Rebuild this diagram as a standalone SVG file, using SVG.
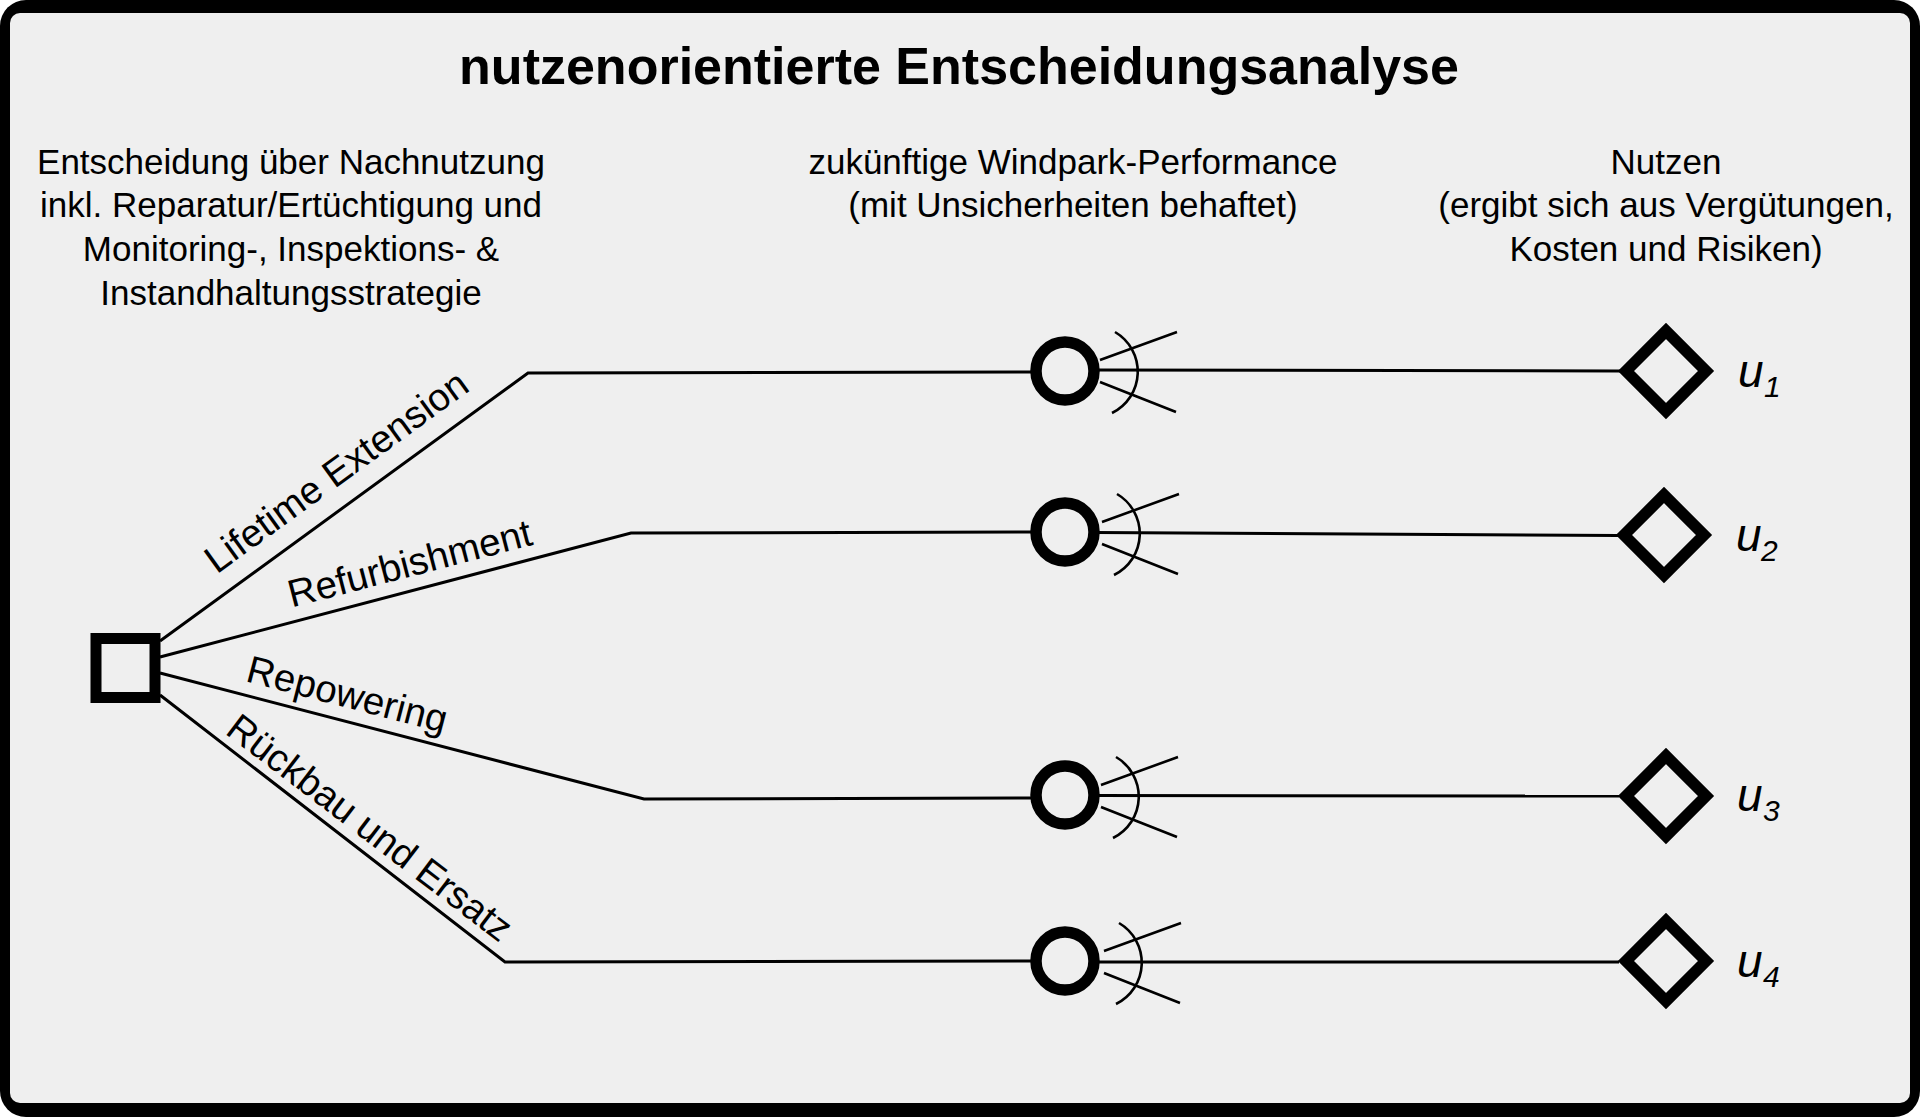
<svg xmlns="http://www.w3.org/2000/svg" xmlns:xlink="http://www.w3.org/1999/xlink" width="1920" height="1117" viewBox="0 0 1920 1117">
<style>
.t{font-family:"Liberation Sans",Arial,sans-serif;font-size:35px;fill:#000;text-anchor:middle}
.lb{font-family:"Liberation Sans",Arial,sans-serif;font-size:38.5px;fill:#000;text-anchor:middle}
.title{font-family:"Liberation Sans",Arial,sans-serif;font-size:52px;font-weight:bold;fill:#000;text-anchor:middle}
.u{font-family:"Liberation Sans",Arial,sans-serif;font-size:46px;font-style:italic;fill:#000}
.sub{font-family:"Liberation Sans",Arial,sans-serif;font-size:30px;font-style:italic;fill:#000}
.ln{fill:none;stroke:#000;stroke-width:3}
.thin{fill:none;stroke:#000;stroke-width:2.6}
.chance{fill:none;stroke:#000;stroke-width:11.5}
.util{fill:none;stroke:#000;stroke-width:11.5;stroke-linejoin:miter}
</style>
<defs>
<g id="fan">
<path class="thin" d="M35,-11 L112,-39 M35,11 L111,41 M50,-39 A46 46 0 0 1 47,42"/>
</g>
</defs>
<rect x="0" y="0" width="1920" height="1117" fill="#fff"/>
<rect x="0" y="0" width="1920" height="1117" rx="26" fill="#000"/>
<rect x="10" y="13" width="1900" height="1090" rx="10" fill="#efefef"/>

<text class="title" x="959" y="84">nutzenorientierte Entscheidungsanalyse</text>

<g id="header-left">
<text class="t" x="291" y="174">Entscheidung über Nachnutzung</text>
<text class="t" x="291" y="217">inkl. Reparatur/Ertüchtigung und</text>
<text class="t" x="291" y="261">Monitoring-, Inspektions- &amp;</text>
<text class="t" x="291" y="305">Instandhaltungsstrategie</text>
</g>
<g id="header-mid">
<text class="t" x="1073" y="174">zukünftige Windpark-Performance</text>
<text class="t" x="1073" y="217">(mit Unsicherheiten behaftet)</text>
</g>
<g id="header-right">
<text class="t" x="1666" y="174">Nutzen</text>
<text class="t" x="1666" y="217">(ergibt sich aus Vergütungen,</text>
<text class="t" x="1666" y="261">Kosten und Risiken)</text>
</g>

<g id="connectors">
<polyline class="ln" points="160,641 528,373 1035,372"/>
<polyline class="ln" points="160,657 631,533 1035,532"/>
<polyline class="ln" points="160,673 644,799 1035,798"/>
<polyline class="ln" points="160,695 505,962 1035,961"/>
<line class="ln" x1="1095" y1="370" x2="1620" y2="371"/>
<line class="ln" x1="1095" y1="532.5" x2="1618" y2="535.5"/>
<line class="ln" x1="1095" y1="795.5" x2="1619" y2="796"/>
<line class="ln" x1="1095" y1="962" x2="1619" y2="962"/>
<text class="lb" transform="translate(344,482) rotate(-36)">Lifetime Extension</text>
<text class="lb" transform="translate(413,576) rotate(-14.6)">Refurbishment</text>
<text class="lb" transform="translate(344,707) rotate(14.6)">Repowering</text>
<text class="lb" transform="translate(362,838) rotate(37.3)">Rückbau und Ersatz</text>
</g>

<g id="decision">
<rect x="96" y="638.5" width="59" height="59" fill="none" stroke="#000" stroke-width="11"/>
</g>

<g id="chance1"><circle class="chance" cx="1065" cy="371" r="29"/><use xlink:href="#fan" x="1065" y="371"/></g>
<g id="chance2"><circle class="chance" cx="1065" cy="532" r="29"/><use xlink:href="#fan" x="1067" y="533"/></g>
<g id="chance3"><circle class="chance" cx="1065" cy="795" r="29"/><use xlink:href="#fan" x="1066" y="796"/></g>
<g id="chance4"><circle class="chance" cx="1065" cy="961" r="29"/><use xlink:href="#fan" x="1069" y="962"/></g>

<g id="utility1"><path class="util" d="M1626,371 L1666,331 L1706,371 L1666,411 Z"/><text class="u" x="1738" y="387">u</text><text class="sub" x="1764" y="397">1</text></g>
<g id="utility2"><path class="util" d="M1624,535 L1664,495 L1704,535 L1664,575 Z"/><text class="u" x="1736" y="551">u</text><text class="sub" x="1761" y="561">2</text></g>
<g id="utility3"><path class="util" d="M1626,796 L1666,756 L1706,796 L1666,836 Z"/><text class="u" x="1737" y="811">u</text><text class="sub" x="1763" y="821">3</text></g>
<g id="utility4"><path class="util" d="M1626,961 L1666,921 L1706,961 L1666,1001 Z"/><text class="u" x="1737" y="977">u</text><text class="sub" x="1763" y="987">4</text></g>
</svg>
